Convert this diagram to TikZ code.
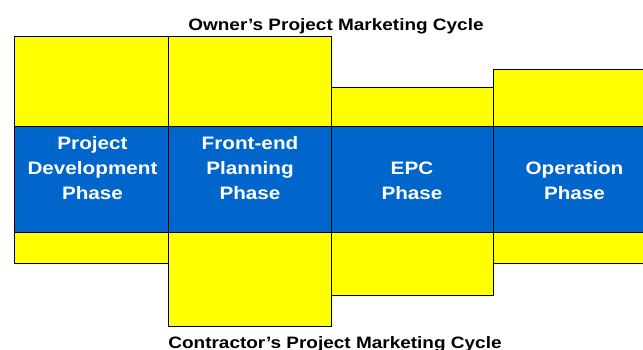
\documentclass[tikz,border=0pt]{standalone}
\usepackage{fontspec}
\usepackage{graphicx}
\setmainfont{Liberation Sans}
\definecolor{phaseblue}{RGB}{0,102,204}
\definecolor{cycleyellow}{RGB}{255,255,0}
\newcommand{\widetext}[1]{\scalebox{1.15}[1]{#1}}
\newcommand{\phaselines}[1]{\widetext{\begin{tabular}[b]{@{}c@{}}#1\end{tabular}}}
\begin{document}
\begin{tikzpicture}[x=1pt,y=-1pt,
  ybox/.style={fill=cycleyellow,draw=black,line width=0.9pt},
  bbox/.style={fill=phaseblue,draw=black,line width=0.9pt},
  phasetext/.style={text=white,font=\fontsize{18}{25}\selectfont\bfseries,inner sep=0pt,anchor=base},
  titletext/.style={text=black,font=\fontsize{16.5}{20}\selectfont\bfseries,inner sep=0pt,anchor=base}]
\useasboundingbox (0,0) rectangle (643,350);
\begin{scope}
\clip (0,0) rectangle (643,350);
% top yellow boxes
\path[ybox] (14,36) rectangle (168,126);
\path[ybox] (168,36) rectangle (331,126);
\path[ybox] (331,87) rectangle (493,126);
\path[ybox] (493,69) rectangle (660,126);
% bottom yellow boxes
\path[ybox] (14,232) rectangle (168,263);
\path[ybox] (168,232) rectangle (331,326);
\path[ybox] (331,232) rectangle (493,295);
\path[ybox] (493,232) rectangle (660,263);
% blue phase band
\path[bbox] (14,126) rectangle (168,232);
\path[bbox] (168,126) rectangle (331,232);
\path[bbox] (331,126) rectangle (493,232);
\path[bbox] (493,126) rectangle (660,232);
\end{scope}
\node[phasetext] (p1) at (92.5,200) {\phaselines{Project\\Development\\Phase}};
\node[phasetext] (p2) at (250,200) {\phaselines{Front-end\\Planning\\Phase}};
\node[phasetext] (p3) at (412,200) {\phaselines{EPC\\Phase}};
\node[phasetext] (p4) at (574.5,200) {\phaselines{Operation\\Phase}};
\node[titletext] (owner) at (336,30.5) {\widetext{Owner’s Project Marketing Cycle}};
\node[titletext] (contractor) at (335,348.5) {\widetext{Contractor’s Project Marketing Cycle}};
\end{tikzpicture}
\end{document}
